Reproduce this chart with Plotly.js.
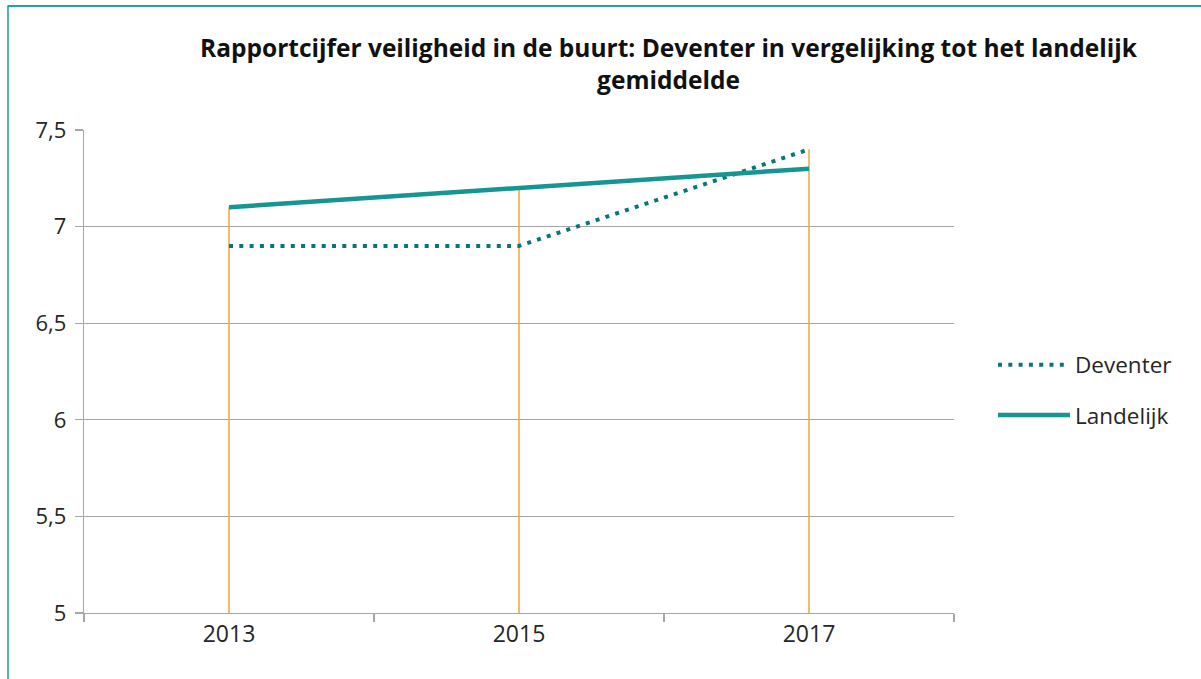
<!DOCTYPE html>
<html>
<head>
<meta charset="utf-8">
<script src="https://cdn.plot.ly/plotly-3.0.1.min.js"></script>
<style>html,body{margin:0;padding:0;background:#fff;}#chart{width:1201px;height:679px;}</style>
</head>
<body>
<div id="chart"></div>
<script>
const years = ['2013', '2015', '2017'];
const deventer = [6.9, 6.9, 7.4];
const landelijk = [7.1, 7.2, 7.3];
const yTicks = [5, 5.5, 6, 6.5, 7, 7.5];
const yTickLabels = ['5', '5,5', '6', '6,5', '7', '7,5'];

const W = 1201, H = 679;
const L = 84, R = 954, T = 130, B = 613;
const px = v => (v - L) / (R - L);
const py = v => (B - v) / (B - T);

// drop lines from axis base to the highest point of each category
const dropX = [], dropY = [];
years.forEach((yr, i) => {
  dropX.push(yr, yr, null);
  dropY.push(yTicks[0], Math.max(deventer[i], landelijk[i]), null);
});

const traces = [
  {
    x: dropX, y: dropY, type: 'scatter', mode: 'lines', showlegend: false,
    line: {color: '#F3A53C', width: 1.5}, hoverinfo: 'skip', connectgaps: false
  },
  {
    x: years, y: deventer, name: 'Deventer', type: 'scatter', mode: 'lines',
    legendgroup: 'a',
    line: {color: '#0B7575', width: 4, dash: '4px,6.3px'},
    hoverinfo: 'skip'
  },
  {
    x: years, y: landelijk, name: 'Landelijk', type: 'scatter', mode: 'lines',
    legendgroup: 'b',
    line: {color: '#159594', width: 4.5},
    hoverinfo: 'skip'
  }
];

const shapes = [
  {
    type: 'line', xref: 'paper', yref: 'paper', layer: 'above',
    x0: px(7.5), x1: px(1215), y0: py(6), y1: py(6),
    line: {color: '#2A9FA3', width: 1.8}
  },
  {
    type: 'line', xref: 'paper', yref: 'paper', layer: 'above',
    x0: px(8), x1: px(8), y0: py(6), y1: py(700),
    line: {color: '#2A9FA3', width: 1.6}
  }
];

const font = 'Open Sans, Noto Sans, sans-serif';
const layout = {
  width: W, height: H,
  margin: {l: L, r: W - R, t: T, b: H - B, pad: 0},
  paper_bgcolor: '#ffffff', plot_bgcolor: '#ffffff',
  font: {family: font, color: '#262626', size: 22},
  title: {
    text: '<b>Rapportcijfer veiligheid in de buurt: Deventer in vergelijking tot het landelijk<br>gemiddelde</b>',
    font: {family: font, size: 24.5, color: '#111111'},
    x: px(668.5), xanchor: 'center', xref: 'paper',
    y: 1 - 57 / H, yanchor: 'middle'
  },
  xaxis: {
    type: 'category', range: [-0.5, 2.5],
    categoryorder: 'array', categoryarray: years,
    showgrid: false, zeroline: false,
    showline: true, linecolor: '#A6A6A6', linewidth: 1.3,
    ticks: 'outside', tickson: 'boundaries', ticklen: 8, tickcolor: '#A6A6A6', tickwidth: 1.3,
    tickfont: {family: font, size: 23, color: '#262626'},
    fixedrange: true
  },
  yaxis: {
    range: [5, 7.5], tickvals: yTicks, ticktext: yTickLabels,
    showgrid: true, gridcolor: '#A6A6A6', gridwidth: 1.3,
    zeroline: false,
    showline: true, linecolor: '#A6A6A6', linewidth: 1.3,
    ticks: 'outside', ticklen: 8, tickcolor: '#A6A6A6', tickwidth: 1.3,
    tickfont: {family: font, size: 22, color: '#262626'},
    ticklabelstandoff: 4,
    fixedrange: true
  },
  showlegend: true,
  legend: {
    x: px(993), xanchor: 'left', y: py(390), yanchor: 'middle',
    traceorder: 'grouped', tracegroupgap: 18, itemwidth: 72,
    font: {family: font, size: 22.5, color: '#262626'},
    bgcolor: 'rgba(0,0,0,0)'
  },
  shapes: shapes
};

Plotly.newPlot('chart', traces, layout, {displayModeBar: false, staticPlot: true});
</script>
</body>
</html>
